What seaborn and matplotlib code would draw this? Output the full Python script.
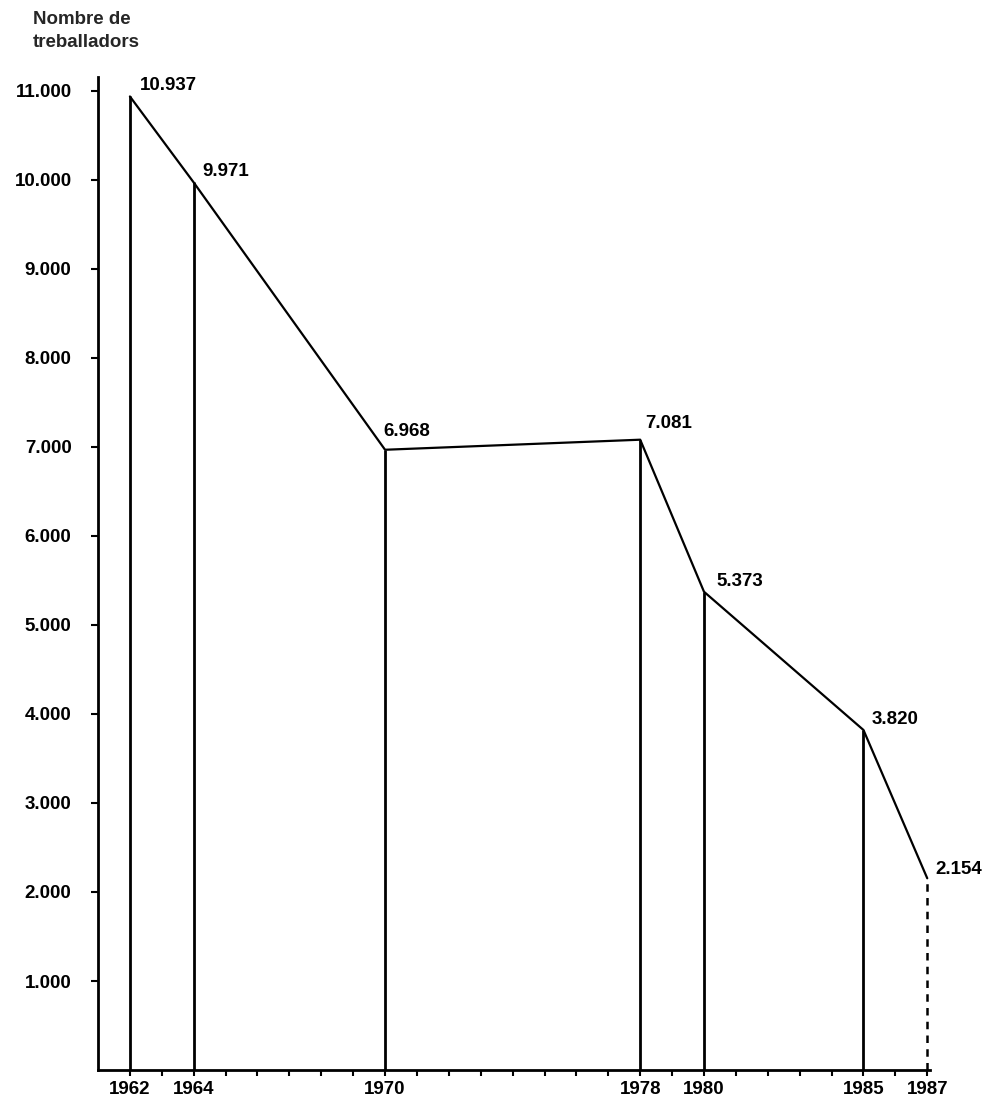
import matplotlib
matplotlib.use("Agg")
import matplotlib.pyplot as plt
import seaborn as sns
import pandas as pd

# Workers employed in each census year
years = [1962, 1964, 1970, 1978, 1980, 1985, 1987]
workers = [10937, 9971, 6968, 7081, 5373, 3820, 2154]
value_labels = ["10.937", "9.971", "6.968", "7.081", "5.373", "3.820", "2.154"]
y_ticks = [1000, 2000, 3000, 4000, 5000, 6000, 7000, 8000, 9000, 10000, 11000]
y_tick_labels = ["1.000", "2.000", "3.000", "4.000", "5.000", "6.000",
                 "7.000", "8.000", "9.000", "10.000", "11.000"]

df = pd.DataFrame({"any": years, "treballadors": workers})

sns.set_style("ticks")
plt.rcParams["font.family"] = ["Liberation Sans", "DejaVu Sans"]

fig = plt.figure(figsize=(9.93, 11.07), dpi=100)
ax = fig.add_axes([0.0987, 0.0334, 0.8383, 0.8966])

# Drop lines from each point down to the axis; the last year is provisional
solid = df.iloc[:-1]
ax.vlines(solid["any"], 0, solid["treballadors"], colors="black", linewidth=2.0)
last = df.iloc[-1]
ax.vlines(last["any"], 0, last["treballadors"], colors="black",
          linewidth=1.8, linestyles=(0, (3, 2.5)))

sns.lineplot(data=df, x="any", y="treballadors", color="black",
             linewidth=1.6, ax=ax)

# Value annotations (pixel offsets converted to points)
offsets_px = [(10, 2), (9, 2), (-2, 10), (5, 8), (12, 2), (8, 2), (8, 0)]
for x, y, lab, (dx, dy) in zip(years, workers, value_labels, offsets_px):
    ax.annotate(lab, (x, y), xytext=(dx * 0.72, dy * 0.72),
                textcoords="offset points", ha="left", va="bottom",
                fontsize=13.5, fontweight="bold", color="black")

ax.set_xlim(1961, 1987.1)
ax.set_ylim(0, 11150)

ax.set_yticks(y_ticks)
ax.set_yticklabels(y_tick_labels, fontsize=13.5, fontweight="bold")

all_years = list(range(1962, 1988))
ax.set_xticks(all_years)
ax.set_xticklabels([str(y) if y in years else "" for y in all_years],
                   fontsize=13.5, fontweight="bold")

ax.tick_params(axis="y", direction="out", length=5, width=1.5,
               colors="black", pad=14)
ax.tick_params(axis="x", direction="out", length=4, width=1.5,
               colors="black", pad=4)

for side in ("top", "right"):
    ax.spines[side].set_visible(False)
for side in ("left", "bottom"):
    ax.spines[side].set_linewidth(2.0)
    ax.spines[side].set_color("black")

ax.set_xlabel("")
ax.set_ylabel("")

fig.text(0.033, 0.972, "Nombre de\ntreballadors", ha="left", va="center",
         fontsize=13.5, fontweight="bold", linespacing=1.4)

fig.savefig("out.png", dpi=100, facecolor="white")
